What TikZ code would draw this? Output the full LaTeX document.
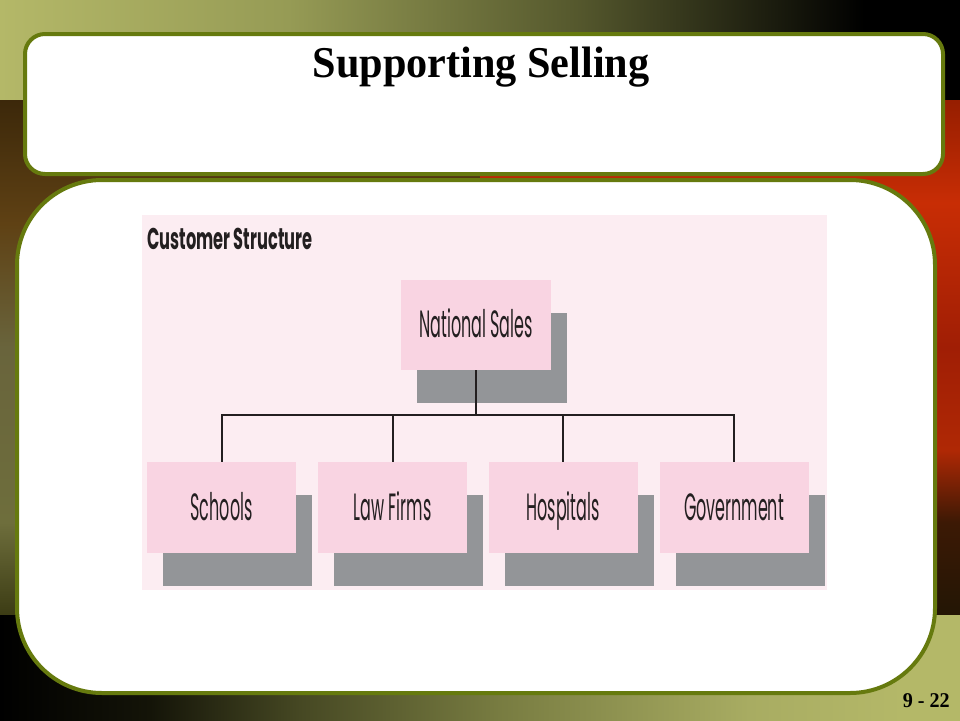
\documentclass[tikz,border=0pt]{standalone}
\usepackage{fontspec}
\usetikzlibrary{shadows}
\newfontfamily\titlefont[FakeStretch=0.96]{Liberation Serif}
\newfontfamily\chartfont[FakeStretch=0.42]{Poppins}
\newfontfamily\chartheadfont[FakeStretch=0.54]{Poppins}
\definecolor{borderolive}{RGB}{102,122,14}
\definecolor{tA}{RGB}{180,184,104}
\definecolor{tB}{RGB}{150,155,85}
\definecolor{tC}{RGB}{85,88,45}
\definecolor{bA}{RGB}{20,20,8}
\definecolor{bB}{RGB}{70,72,35}
\definecolor{bC}{RGB}{120,124,65}
\definecolor{bD}{RGB}{168,172,98}
\definecolor{lA}{RGB}{60,40,10}
\definecolor{lB}{RGB}{95,65,20}
\definecolor{lC}{RGB}{105,100,60}
\definecolor{lD}{RGB}{110,110,60}
\definecolor{lE}{RGB}{60,60,20}
\definecolor{rA}{RGB}{150,30,0}
\definecolor{rB}{RGB}{200,45,5}
\definecolor{rC}{RGB}{160,30,5}
\definecolor{rD}{RGB}{175,40,5}
\definecolor{rE}{RGB}{60,25,5}
\definecolor{rF}{RGB}{35,22,5}
\definecolor{chartbg}{RGB}{252,237,242}
\definecolor{boxpink}{RGB}{249,212,226}
\definecolor{shadowgray}{RGB}{147,149,152}
\definecolor{textdark}{RGB}{35,31,32}
\pgfdeclarehorizontalshading{topband}{100bp}{color(0bp)=(tA); color(25bp)=(tA); color(40bp)=(tB); color(55bp)=(tC); color(70bp)=(black); color(100bp)=(black)}
\pgfdeclarehorizontalshading{bottomband}{100bp}{color(0bp)=(black); color(25bp)=(black); color(32.8bp)=(bA); color(40.6bp)=(bB); color(51bp)=(bC); color(64bp)=(bD); color(72bp)=(tA); color(100bp)=(tA)}
\pgfdeclareverticalshading{leftband}{100bp}{color(0bp)=(lE); color(25bp)=(lE); color(34bp)=(lD); color(51bp)=(lC); color(63bp)=(lB); color(75bp)=(lA); color(100bp)=(lA)}
\pgfdeclareverticalshading{rightband}{100bp}{color(0bp)=(rF); color(25bp)=(rF); color(34bp)=(rE); color(41bp)=(rD); color(51bp)=(rC); color(65bp)=(rB); color(75bp)=(rA); color(100bp)=(rA)}
\tikzset{
  panel/.style={fill=white, draw=borderolive, line width=4pt},
  orgbox/.style={fill=boxpink, minimum width=150pt, minimum height=90pt, inner sep=0pt,
    text height=26pt, text depth=1pt,
    font=\chartfont\fontsize{38}{38}\selectfont, text=textdark,
    general shadow={fill=shadowgray, shadow xshift=16pt, shadow yshift=-33pt}},
  orgline/.style={draw=textdark, line width=2pt},
}
\begin{document}
\begin{tikzpicture}[x=1pt,y=-1pt]
\useasboundingbox (0,0) rectangle (960,720);
% background bands
\shade[shading=topband] (0,0) rectangle (960,100);
\shade[shading=leftband] (0,100) rectangle (480,615);
\shade[shading=rightband] (480,100) rectangle (960,615);
\shade[shading=bottomband] (0,615) rectangle (960,720);
% panels
\draw[panel, rounded corners=85pt] (17,180) rectangle (935,693);
\draw[panel, rounded corners=20pt] (25,34) rectangle (943,174);
% title
\node[anchor=base, font=\titlefont\bfseries\fontsize{44}{44}\selectfont] (title) at (481,77) {Supporting Selling};
% chart area
\fill[chartbg] (142,215) rectangle (827,590);
\node[anchor=base west, inner sep=0pt, text=textdark, font=\chartheadfont\bfseries\fontsize{30}{30}\selectfont] (head) at (147,249) {Customer Structure};
\node[orgbox] (ns) at (476,325) {National Sales};
\node[orgbox, minimum width=149pt, minimum height=91pt] (schools) at (221.5,507.5) {Schools};
\node[orgbox, minimum width=149pt, minimum height=91pt] (law) at (392.5,507.5) {Law Firms};
\node[orgbox, minimum width=149pt, minimum height=91pt] (hosp) at (563,507.5) {Hospitals};
\node[orgbox, minimum width=149pt, minimum height=91pt] (gov) at (734,507.5) {Government};
\coordinate (bus) at (476,415);
\draw[orgline] (ns.south) -- (bus);
\draw[orgline] (schools.north) -- (schools.north |- bus) -- (gov.north |- bus) -- (gov.north);
\draw[orgline] (law.north) -- (law.north |- bus);
\draw[orgline] (hosp.north) -- (hosp.north |- bus);
% page number
\node[anchor=base east, inner sep=0pt, font=\titlefont\bfseries\fontsize{21}{21}\selectfont] (pagenum) at (950,707) {9 - 22};
\end{tikzpicture}
\end{document}
